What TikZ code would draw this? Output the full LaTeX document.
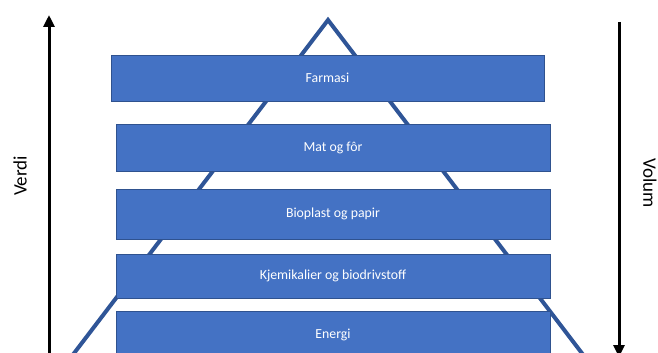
\documentclass[tikz,border=0pt]{standalone}
\usepackage{fontspec}
\setmainfont{Carlito}
\usetikzlibrary{arrows.meta}

\definecolor{layerfill}{HTML}{4472C4}
\definecolor{layerline}{HTML}{2F528F}
\definecolor{pyramid}{HTML}{2F5597}

\tikzset{
    layer/.style={draw=layerline, fill=layerfill, line width=0.8pt, text=white,
        minimum width=434pt, minimum height=46pt, inner sep=0pt,
        font=\fontsize{13.8}{16}\selectfont},
    axisarrow/.style={line width=3pt, -{Triangle[width=11pt,length=12pt]}},
    axislabel/.style={font=\fontsize{19}{22}\selectfont, inner sep=0pt}
}

\begin{document}
\begin{tikzpicture}[x=1pt, y=-1pt]
    \useasboundingbox (0,0) rectangle (658,353);
    \clip (0,0) rectangle (658,353);
    % Pyramid outline behind the layers
    \coordinate (apex) at (328,20);
    \coordinate (baseleft) at (59,373);
    \coordinate (baseright) at (597,373);
    \draw[pyramid, line width=4pt, miter limit=10] (baseleft) -- (apex) -- (baseright);
    % Layers, top to bottom
    \node[layer, minimum width=433pt] (farmasi) at (327.5,78) {Farmasi};
    \node[layer, minimum height=47pt] (mat) at (333,147.5) {Mat og fôr};
    \node[layer, minimum height=50pt] (bioplast) at (333,214) {Bioplast og papir};
    \node[layer, minimum height=44pt] (kjemikalier) at (333,276) {Kjemikalier og biodrivstoff};
    \node[layer, minimum height=48pt] (energi) at (333,335) {Energi};
    % Value axis (left) and volume axis (right)
    \coordinate (verdilow) at (49,360);
    \coordinate (verdihigh) at (49,15);
    \coordinate (volumtop) at (619,22);
    \coordinate (volumbottom) at (619,357);
    \draw[axisarrow] (verdilow) -- (verdihigh);
    \draw[axisarrow] (volumtop) -- (volumbottom);
    \node[axislabel, rotate=90] (verdi) at (20,176) {Verdi};
    \node[axislabel, rotate=-90] (volum) at (650,183) {Volum};
\end{tikzpicture}
\end{document}
